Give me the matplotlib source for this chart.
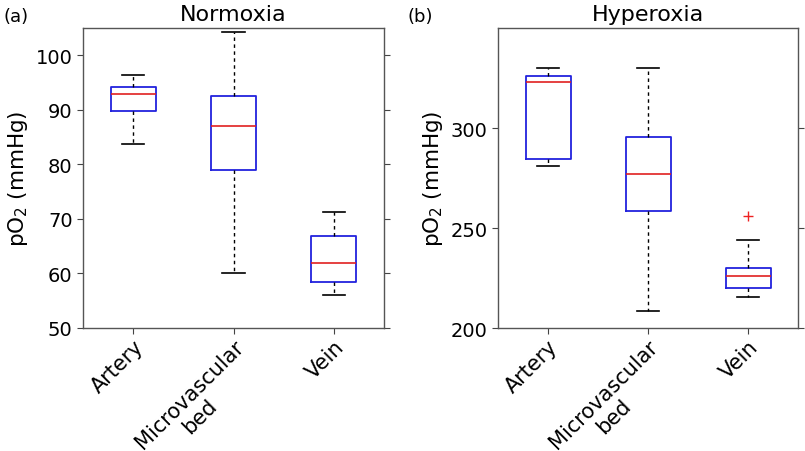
import matplotlib
matplotlib.use("Agg")
import matplotlib.pyplot as plt

categories = ["Artery", "Microvascular\nbed", "Vein"]

# Normoxia: whislo, q1, med, q3, whishi
norm_whislo = [83.7, 60.1, 56.0]
norm_q1 = [89.7, 79.0, 58.5]
norm_med = [92.85, 87.1, 62.0]
norm_q3 = [94.1, 92.5, 66.9]
norm_whishi = [96.3, 104.2, 71.3]
norm_fliers = [[], [], []]

# Hyperoxia
hyp_whislo = [280.8, 208.6, 215.6]
hyp_q1 = [284.3, 258.7, 219.9]
hyp_med = [323.1, 276.8, 226.1]
hyp_q3 = [326.1, 295.7, 230.0]
hyp_whishi = [330.2, 330.2, 244.1]
hyp_fliers = [[], [], [256.1]]

norm_ticks = [50, 60, 70, 80, 90, 100]
hyp_ticks = [200, 250, 300]

plt.rcParams['font.family'] = ['DejaVu Sans']

fig = plt.figure(figsize=(8.05, 4.52), dpi=100)
ax1 = fig.add_axes([83/805, 123/452, 301/805, 300/452])
ax2 = fig.add_axes([498/805, 123/452, 300/805, 300/452])

positions = [1, 2, 3]


def make_stats(lo, q1, med, q3, hi, fl):
    return [dict(whislo=a, q1=b, med=c, q3=d, whishi=e, fliers=f, label=lab)
            for a, b, c, d, e, f, lab in zip(lo, q1, med, q3, hi, fl, categories)]


def draw(ax, stats, ylim, ticks, title, panel, px):
    ax.bxp(stats, positions=positions, widths=0.45, capwidths=0.22,
           boxprops=dict(color='#2222dd', linewidth=1.3),
           medianprops=dict(color='#e02020', linewidth=1.2),
           whiskerprops=dict(color='black', linewidth=1.0, linestyle=(0, (2.5, 2.5))),
           capprops=dict(color='black', linewidth=1.2),
           flierprops=dict(marker='+', markeredgecolor='#ee2222', markersize=7,
                           linestyle='none'))
    ax.set_xlim(0.5, 3.5)
    ax.set_ylim(*ylim)
    ax.set_yticks(ticks)
    ax.tick_params(axis='y', which='both', left=True, right=True, direction='out',
                   labelsize=14, length=4, color='#444444')
    ax.tick_params(axis='x', direction='out', labelsize=15, length=4, color='#444444',
                   pad=2)
    ax.set_xticks(positions)
    first_lines = [c.split("\n")[0] for c in categories]
    ax.set_xticklabels(first_lines, rotation=45, ha='right', rotation_mode='anchor')
    # second lines of multi-line labels, centred under the first line
    for pos, c in zip(positions, categories):
        parts = c.split("\n")
        if len(parts) > 1:
            ax.annotate(parts[1], xy=(pos, 0), xycoords=('data', 'axes fraction'),
                        xytext=(-24.5, -63.5), textcoords='offset points',
                        rotation=45, ha='center', va='center', fontsize=15,
                        annotation_clip=False)
    for s in ax.spines.values():
        s.set_color('#555555')
        s.set_linewidth(1.0)
    ax.set_ylabel(r'pO$_2$ (mmHg)', fontsize=15.5)
    ax.set_title(title, fontsize=16, pad=6)
    ax.text(px, 1.04, panel, transform=ax.transAxes, fontsize=13,
            ha='left', va='center')


draw(ax1, make_stats(norm_whislo, norm_q1, norm_med, norm_q3, norm_whishi, norm_fliers),
     (50, 105), norm_ticks, "Normoxia", "(a)", -0.265)
draw(ax2, make_stats(hyp_whislo, hyp_q1, hyp_med, hyp_q3, hyp_whishi, hyp_fliers),
     (200, 350), hyp_ticks, "Hyperoxia", "(b)", -0.303)

fig.savefig("out.png", dpi=100)
